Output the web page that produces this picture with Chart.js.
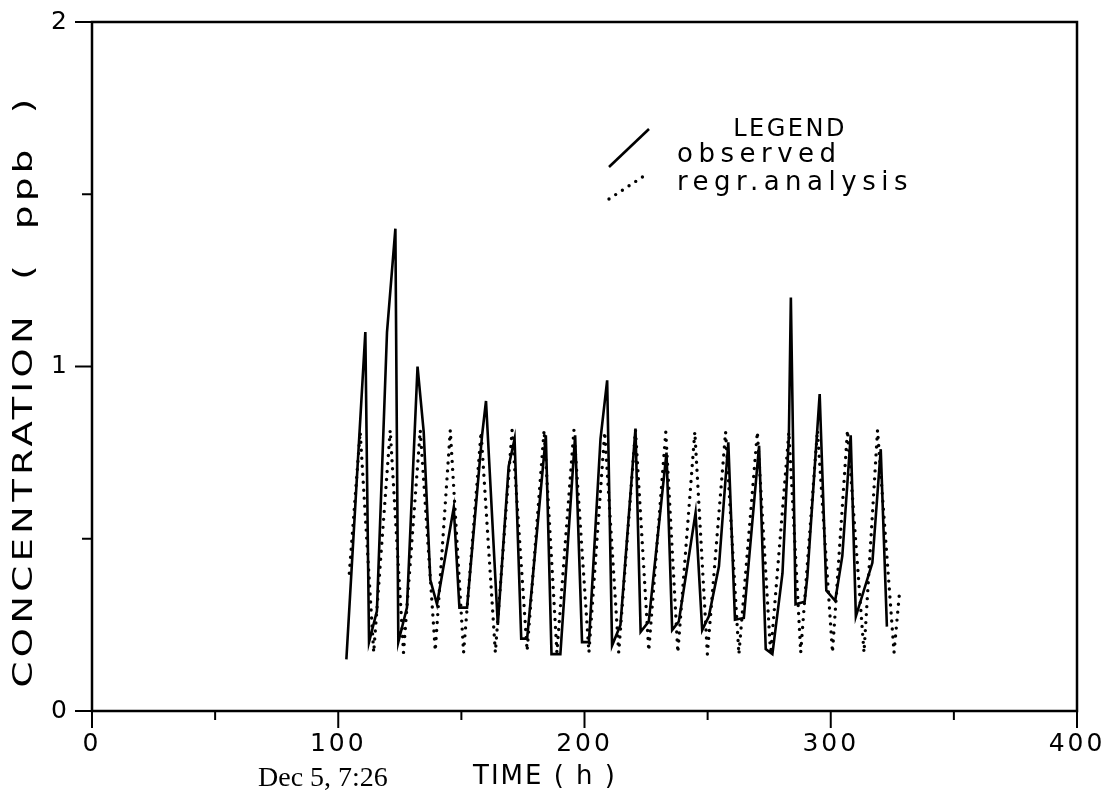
<!DOCTYPE html>
<html>
<head>
<meta charset="utf-8">
<script src="https://cdn.jsdelivr.net/npm/chart.js@4.4.1/dist/chart.umd.min.js"></script>
<style>
html,body{margin:0;padding:0;background:#fff;}
#wrap{width:1120px;height:805px;position:relative;}
</style>
</head>
<body>
<div id="wrap"><canvas id="c" width="1120" height="805"></canvas></div>
<script>
// ---- data ----
const obsTime = [103.3, 111.0, 112.5, 115.7, 119.8, 123.2, 124.4, 127.9, 132.2, 134.7, 137.4, 140.1, 146.9, 149.2, 152.3, 158.4, 160.0, 164.8, 169.2, 171.6, 174.3, 176.7, 184.3, 186.6, 190.2, 196.2, 199.0, 201.8, 206.5, 209.2, 211.2, 214.6, 220.7, 222.8, 226.1, 233.3, 235.6, 238.3, 245.1, 247.8, 250.5, 254.6, 258.4, 261.1, 264.7, 270.9, 273.6, 276.3, 280.4, 283.0, 283.8, 285.7, 289.4, 290.5, 295.5, 298.2, 301.8, 304.7, 308.1, 310.2, 316.9, 320.3, 322.8];
const obsConc = [0.15, 1.10, 0.20, 0.29, 1.10, 1.40, 0.20, 0.30, 1.00, 0.81, 0.38, 0.31, 0.59, 0.30, 0.30, 0.80, 0.90, 0.25, 0.71, 0.79, 0.21, 0.21, 0.80, 0.165, 0.165, 0.80, 0.20, 0.20, 0.79, 0.96, 0.19, 0.25, 0.82, 0.23, 0.26, 0.75, 0.235, 0.26, 0.575, 0.235, 0.275, 0.42, 0.78, 0.265, 0.27, 0.77, 0.18, 0.165, 0.40, 0.80, 1.20, 0.31, 0.317, 0.39, 0.92, 0.35, 0.32, 0.45, 0.80, 0.275, 0.43, 0.76, 0.245];
const regTime = [104.5, 108.9, 114.4, 121.1, 126.5, 133.3, 139.4, 145.5, 150.9, 158.0, 163.8, 170.6, 176.7, 183.6, 188.8, 195.7, 201.8, 208.2, 213.9, 220.7, 226.1, 233.0, 237.9, 244.8, 249.9, 257.3, 262.7, 270.2, 275.6, 283.0, 287.8, 294.6, 300.7, 306.8, 313.5, 319.0, 325.7, 328.0];
const regConc = [0.40, 0.81, 0.17, 0.815, 0.17, 0.815, 0.175, 0.815, 0.17, 0.81, 0.17, 0.815, 0.175, 0.815, 0.17, 0.815, 0.17, 0.81, 0.17, 0.815, 0.175, 0.81, 0.17, 0.81, 0.165, 0.81, 0.165, 0.81, 0.165, 0.81, 0.17, 0.815, 0.17, 0.815, 0.17, 0.815, 0.17, 0.35];
const xTickLabels = ['0', '100', '200', '300', '400'];
const yTickLabels = ['0', '1', '2'];
const seriesNames = ['observed', 'regr.analysis'];
const xTitle = 'TIME ( h )';
const yTitle = 'CONCENTRATION  (  ppb  )';
const stampText = 'Dec 5, 7:26';
const legendTitle = 'LEGEND';

const toPts = (xs, ys) => xs.map((x, i) => ({x: x, y: ys[i]}));
const FONT = "'DejaVu Sans', sans-serif";

const decor = {
  id: 'decor',
  beforeDraw(chart) {
    chart.ctx.letterSpacing = '3px';
  },
  afterDraw(chart) {
    const ctx = chart.ctx;
    const a = chart.chartArea;
    const xs = chart.scales.x, ys = chart.scales.y;
    ctx.save();
    ctx.strokeStyle = '#000';
    ctx.fillStyle = '#000';
    ctx.lineWidth = 2.5;
    ctx.lineCap = 'butt';
    ctx.strokeRect(a.left, a.top, a.right - a.left, a.bottom - a.top);
    // tick marks
    ctx.lineWidth = 2;
    for (let v = 0; v <= 400; v += 50) {
      const px = xs.getPixelForValue(v);
      const len = (v % 100 === 0) ? 17 : 9;
      ctx.beginPath(); ctx.moveTo(px, a.bottom); ctx.lineTo(px, a.bottom + len); ctx.stroke();
    }
    for (let v = 0; v <= 2; v += 0.5) {
      const py = ys.getPixelForValue(v);
      const len = Number.isInteger(v) ? 17 : 10;
      ctx.beginPath(); ctx.moveTo(a.left - len, py); ctx.lineTo(a.left + (v === 0 ? 6 : 0), py); ctx.stroke();
    }
    ctx.textBaseline = 'middle';
    // x title
    ctx.letterSpacing = '2px';
    ctx.font = "26px " + FONT;
    ctx.textAlign = 'left';
    ctx.fillText(xTitle, 473, 777);
    // y title: wide lettering stretched to span the measured length
    ctx.font = "26px " + FONT;
    ctx.letterSpacing = '3px';
    const baseW = ctx.measureText(yTitle).width;
    const stretch = 593 / baseW;
    ctx.textAlign = 'center';
    ctx.save();
    ctx.translate(25, 391);
    ctx.rotate(-Math.PI / 2);
    ctx.scale(stretch, 1);
    ctx.fillText(yTitle, 0, 0);
    ctx.restore();
    // timestamp
    ctx.letterSpacing = '0px';
    ctx.font = "28px 'Liberation Serif', serif";
    ctx.textAlign = 'left';
    ctx.fillText(stampText, 258, 779);
    // legend
    ctx.letterSpacing = '2.5px';
    ctx.font = "24px " + FONT;
    ctx.textAlign = 'center';
    ctx.fillText(legendTitle, 790, 130);
    ctx.letterSpacing = '5.5px';
    ctx.font = "26px " + FONT;
    ctx.textAlign = 'left';
    ctx.fillText(seriesNames[0], 677, 155);
    ctx.fillText(seriesNames[1], 677, 183);
    const d0 = chart.data.datasets[0], d1 = chart.data.datasets[1];
    ctx.strokeStyle = d0.borderColor; ctx.lineWidth = d0.borderWidth;
    ctx.beginPath(); ctx.moveTo(609, 167); ctx.lineTo(649, 129); ctx.stroke();
    ctx.strokeStyle = d1.borderColor; ctx.lineWidth = d1.borderWidth;
    ctx.lineCap = 'round'; ctx.setLineDash(d1.borderDash);
    ctx.beginPath(); ctx.moveTo(609, 199); ctx.lineTo(647, 174); ctx.stroke();
    ctx.restore();
  }
};

new Chart(document.getElementById('c'), {
  type: 'line',
  data: {
    datasets: [
      { label: seriesNames[0], data: toPts(obsTime, obsConc), borderColor: '#000', borderWidth: 2.6,
        pointRadius: 0, fill: false, tension: 0, order: 1 },
      { label: seriesNames[1], data: toPts(regTime, regConc), borderColor: '#000', borderWidth: 3.4,
        borderDash: [0, 8], borderCapStyle: 'round', pointRadius: 0, fill: false, tension: 0, order: 2 }
    ]
  },
  options: {
    responsive: false,
    animation: false,
    devicePixelRatio: 1,
    layout: { padding: { top: 22, right: 43, left: 0, bottom: 0 } },
    plugins: { legend: { display: false }, tooltip: { enabled: false } },
    scales: {
      x: {
        type: 'linear', min: 0, max: 400,
        afterFit: (s) => { s.height = 94; s.paddingLeft = 0; s.paddingRight = 0; },
        grid: { display: false, drawTicks: false },
        border: { display: false },
        ticks: {
          stepSize: 50, autoSkip: false, maxRotation: 0, padding: 18, color: '#000',
          font: { family: FONT, size: 25 },
          callback: (v) => (v % 100 === 0 ? xTickLabels[v / 100] : '')
        }
      },
      y: {
        type: 'linear', min: 0, max: 2,
        afterFit: (s) => { s.width = 92; s.paddingTop = 0; s.paddingBottom = 0; },
        grid: { display: false, drawTicks: false },
        border: { display: false },
        ticks: {
          stepSize: 0.5, autoSkip: false, padding: 22, color: '#000',
          font: { family: FONT, size: 25 },
          callback: (v) => (Number.isInteger(v) ? yTickLabels[v] : '')
        }
      }
    }
  },
  plugins: [decor]
});
</script>
</body>
</html>
